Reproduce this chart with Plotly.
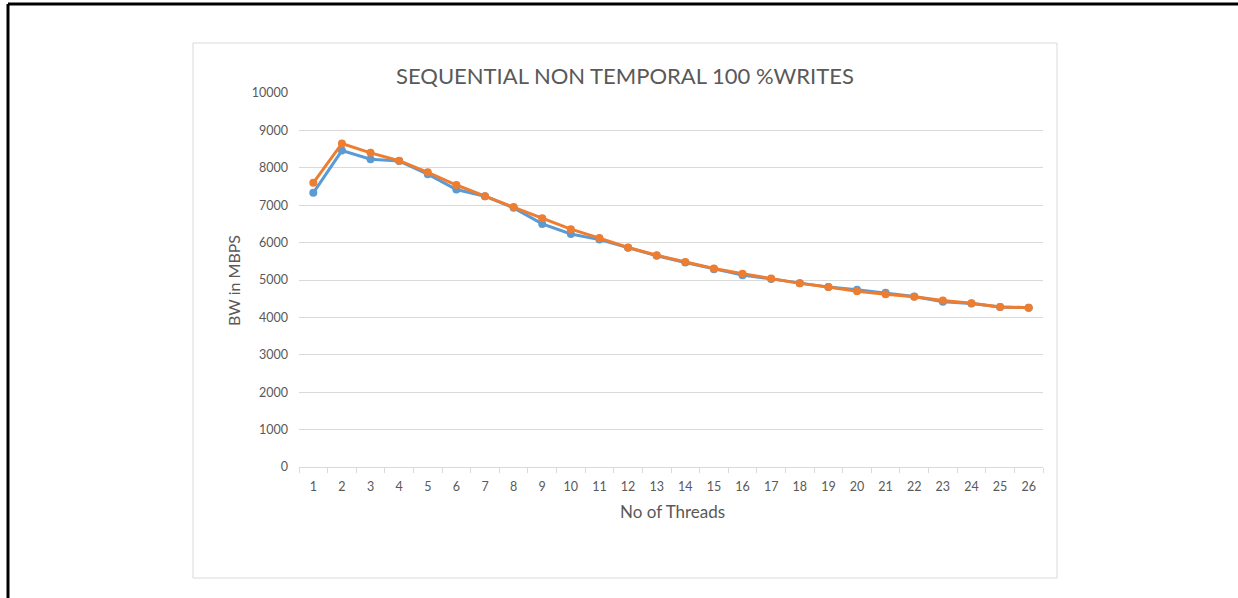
import plotly.graph_objects as go

# Thread counts on the x axis
threads = [str(n) for n in range(1, 27)]

# Bandwidth (MB/s) for the two runs
bw_run1 = [7330, 8460, 8230, 8180, 7830, 7420, 7240, 6930, 6500, 6230,
           6080, 5860, 5650, 5470, 5290, 5130, 5030, 4910, 4810, 4740,
           4660, 4560, 4420, 4370, 4280, 4260]
bw_run2 = [7600, 8650, 8400, 8190, 7880, 7540, 7240, 6950, 6650, 6360,
           6120, 5870, 5660, 5480, 5310, 5170, 5040, 4910, 4810, 4700,
           4620, 4550, 4450, 4380, 4280, 4260]

y_ticks = list(range(0, 10001, 1000))
y_tick_text = [str(v) for v in y_ticks]

title_text = "SEQUENTIAL NON TEMPORAL 100 %WRITES"
x_title = "No of Threads"
y_title = "BW in MBPS"

W, H = 1238, 598
FONT = "Lato"
GRAY = "#595959"
GRID = "#D9D9D9"
BLUE = "#5B9BD5"
ORANGE = "#ED7D31"


def px(x):
    return x / W


def py(y):
    return 1 - y / H


fig = go.Figure()
fig.add_trace(go.Scatter(x=threads, y=bw_run1, mode="lines+markers",
                         line=dict(color=BLUE, width=3),
                         marker=dict(color=BLUE, size=8), name="Run 1"))
fig.add_trace(go.Scatter(x=threads, y=bw_run2, mode="lines+markers",
                         line=dict(color=ORANGE, width=3),
                         marker=dict(color=ORANGE, size=8), name="Run 2"))

fig.update_layout(
    width=W, height=H,
    margin=dict(l=0, r=0, t=0, b=0, pad=0, autoexpand=False),
    paper_bgcolor="white", plot_bgcolor="white",
    showlegend=False,
    font=dict(family=FONT, color=GRAY),
    xaxis=dict(
        type="category",
        automargin=False,
        domain=[px(299), px(1043)],
        range=[-0.5, len(threads) - 0.5],
        tickson="boundaries",
        ticks="outside", ticklen=5, tickcolor=GRID,
        showline=True, linecolor=GRID, linewidth=1,
        showgrid=False, zeroline=False,
        tickfont=dict(size=12.5, color=GRAY, family=FONT),
        ticklabelstandoff=8,
    ),
    yaxis=dict(
        automargin=False,
        domain=[py(467), py(93)],
        range=[0, 10000],
        tickvals=y_ticks, ticktext=y_tick_text,
        showgrid=True, gridcolor=GRID, gridwidth=1,
        zeroline=False, showline=False, ticks="",
        tickfont=dict(size=12.5, color=GRAY, family=FONT),
        ticklabelstandoff=10,
    ),
    shapes=[
        # chart area frame
        dict(type="rect", xref="paper", yref="paper",
             x0=px(193), x1=px(1057), y0=py(578), y1=py(43),
             line=dict(color=GRID, width=1), layer="below"),
        # page border lines
        dict(type="line", xref="paper", yref="paper",
             x0=px(8), x1=1, y0=py(4), y1=py(4),
             line=dict(color="black", width=3)),
        dict(type="line", xref="paper", yref="paper",
             x0=px(8), x1=px(8), y0=0, y1=py(4),
             line=dict(color="black", width=3)),
    ],
    annotations=[
        dict(text=title_text, xref="paper", yref="paper",
             x=px(625), y=py(75), showarrow=False,
             xanchor="center", yanchor="middle",
             font=dict(size=22, color=GRAY, family=FONT)),
        dict(text=x_title, xref="paper", yref="paper",
             x=px(672), y=py(511), showarrow=False,
             xanchor="center", yanchor="middle",
             font=dict(size=17, color=GRAY, family=FONT)),
        dict(text=y_title, xref="paper", yref="paper",
             x=px(233), y=py(281), showarrow=False, textangle=-90,
             xanchor="center", yanchor="middle",
             font=dict(size=16, color=GRAY, family=FONT)),
    ],
)

fig.write_html("out.html")
